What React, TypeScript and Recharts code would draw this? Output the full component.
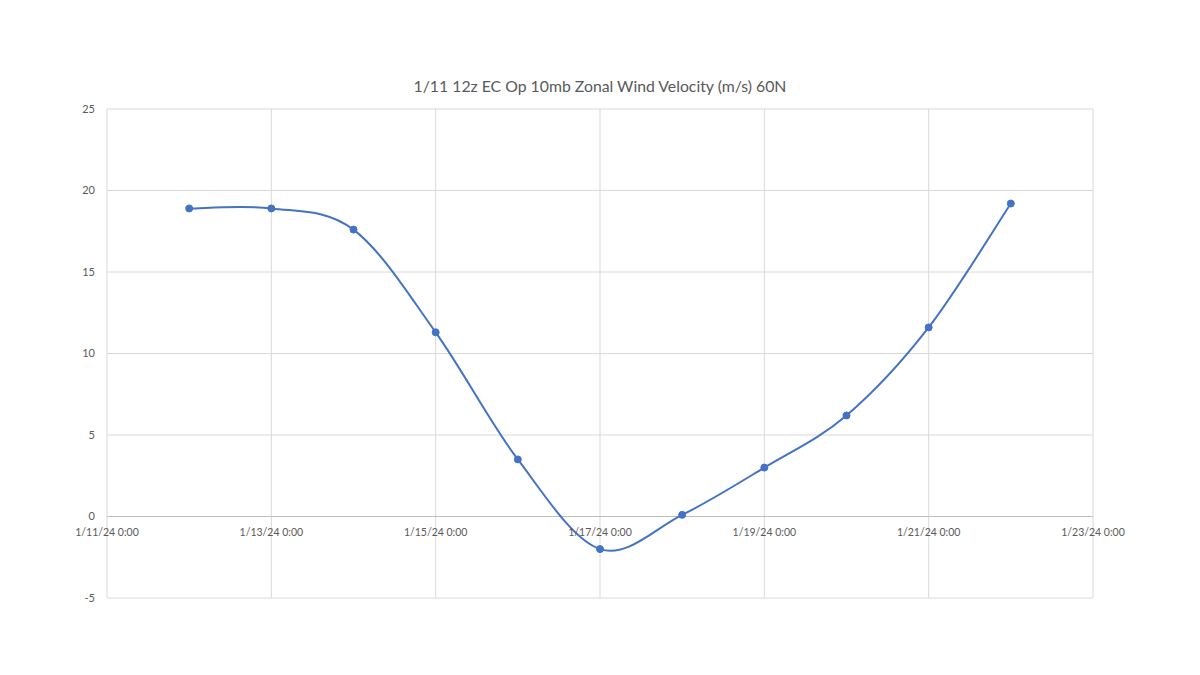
import React from "react";
import { LineChart, Line, XAxis, YAxis, CartesianGrid, ReferenceLine } from "recharts";

const TITLE = "1/11 12z EC Op 10mb Zonal Wind Velocity (m/s) 60N";
const dates = ["2024-01-12", "2024-01-13", "2024-01-14", "2024-01-15", "2024-01-16", "2024-01-17", "2024-01-18", "2024-01-19", "2024-01-20", "2024-01-21", "2024-01-22"];
const windValues = [18.9, 18.9, 17.6, 11.3, 3.5, -2.0, 0.1, 3.0, 6.2, 11.6, 19.2];
const xTickDates = ["2024-01-11", "2024-01-13", "2024-01-15", "2024-01-17", "2024-01-19", "2024-01-21", "2024-01-23"];
const xTickLabels = ["1/11/24 0:00", "1/13/24 0:00", "1/15/24 0:00", "1/17/24 0:00", "1/19/24 0:00", "1/21/24 0:00", "1/23/24 0:00"];
const yTicks = [-5, 0, 5, 10, 15, 20, 25];

const toTs = (d: string) => Date.parse(d + "T00:00:00Z");
const data = dates.map((d, i) => ({ t: toTs(d), v: windValues[i] }));
const xTicks = xTickDates.map(toTs);
const labelFor = (ts: number) => xTickLabels[xTicks.indexOf(ts)] ?? "";

const W = 1200;
const H = 675;
const M = { top: 109, right: 107, bottom: 47, left: 67 };
const YAXIS_W = 40;
const XAXIS_H = 30;
const PLOT_H = H - M.top - M.bottom - XAXIS_H;
const Y_MIN = -5;
const Y_MAX = 25;
const ZERO_Y = M.top + (PLOT_H * (Y_MAX - 0)) / (Y_MAX - Y_MIN);
const FONT = "Lato, 'Open Sans', sans-serif";

// Excel-like smoothed line (Catmull-Rom style bezier through points)
const excelCurve = (context: any) => {
  let pts: [number, number][] = [];
  return {
    areaStart() {},
    areaEnd() {},
    lineStart() {
      pts = [];
    },
    point(x: number, y: number) {
      pts.push([+x, +y]);
    },
    lineEnd() {
      const n = pts.length;
      if (!n) return;
      context.moveTo(pts[0][0], pts[0][1]);
      for (let i = 0; i < n - 1; i++) {
        const p0 = pts[i - 1] || pts[i];
        const p1 = pts[i];
        const p2 = pts[i + 1];
        const p3 = pts[i + 2] || pts[i + 1];
        const c1x = p1[0] + (p2[0] - p0[0]) / 6;
        const c1y = p1[1] + (p2[1] - p0[1]) / 6;
        const c2x = p2[0] - (p3[0] - p1[0]) / 6;
        const c2y = p2[1] - (p3[1] - p1[1]) / 6;
        context.bezierCurveTo(c1x, c1y, c2x, c2y, p2[0], p2[1]);
      }
    },
  };
};

const XTick = (props: any) => {
  const { x, payload } = props;
  return (
    <text x={x} y={ZERO_Y + 19} textAnchor="middle" fill="#595959" fontSize={10.5} fontFamily={FONT}>
      {labelFor(payload.value)}
    </text>
  );
};

export default function App() {
  return (
    <div style={{ position: "absolute", left: 0, top: 0, width: W, height: H, background: "#fff" }}>
      <div
        style={{
          position: "absolute",
          top: 76,
          left: 0,
          width: W,
          textAlign: "center",
          fontFamily: FONT,
          fontSize: 15.8,
          color: "#595959",
        }}
      >
        {TITLE}
      </div>
      <LineChart width={W} height={H} data={data} margin={M}>
        <CartesianGrid stroke="#d9d9d9" strokeWidth={1} />
        <XAxis
          dataKey="t"
          type="number"
          domain={[xTicks[0], xTicks[xTicks.length - 1]]}
          ticks={xTicks}
          axisLine={false}
          tickLine={false}
          height={XAXIS_H}
          tick={<XTick />}
          interval={0}
        />
        <YAxis
          type="number"
          domain={[Y_MIN, Y_MAX]}
          ticks={yTicks}
          axisLine={false}
          tickLine={false}
          width={YAXIS_W}
          tickMargin={6}
          interval={0}
          tick={{ fill: "#595959", fontSize: 11, fontFamily: FONT }}
        />
        <ReferenceLine y={0} stroke="#bfbfbf" strokeWidth={1} />
        <Line
          dataKey="v"
          type={excelCurve as any}
          stroke="#4472C4"
          strokeWidth={2}
          dot={{ r: 3.5, fill: "#4472C4", stroke: "#4472C4", strokeWidth: 1 }}
          isAnimationActive={false}
        />
      </LineChart>
    </div>
  );
}
